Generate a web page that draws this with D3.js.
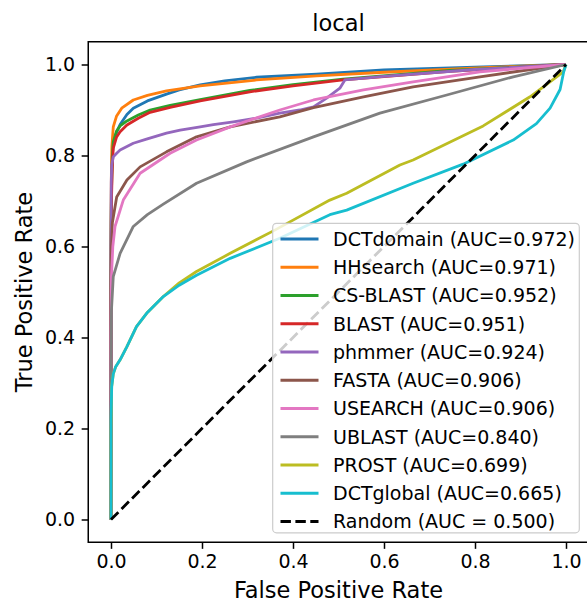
<!DOCTYPE html>
<html>
<head>
<meta charset="utf-8">
<script src="https://cdn.jsdelivr.net/npm/d3@7"></script>
<style>
  body { margin: 0; background: #fff; }
  text { font-family: "DejaVu Sans", sans-serif; fill: #000; }
</style>
</head>
<body>
<script>
//variables
var width = 587;
var height = 602;

//roc points, [fpr, tpr]
var dctdomain = [[0,0],[0,0.6],[0.001,0.75],[0.003,0.8],[0.005,0.83],[0.0125,0.852],[0.02,0.868],[0.035,0.89],[0.049,0.904],[0.08,0.92],[0.122,0.935],[0.15,0.944],[0.196,0.955],[0.25,0.964],[0.32,0.972],[0.452,0.979],[0.6,0.988],[0.818,0.995],[1,1]];
var hhsearch = [[0,0],[0,0.65],[0.001,0.78],[0.002,0.82],[0.005,0.863],[0.012,0.886],[0.0235,0.904],[0.049,0.922],[0.08,0.932],[0.122,0.942],[0.196,0.953],[0.32,0.966],[0.452,0.975],[0.6,0.983],[0.818,0.993],[1,1]];
var csblast = [[0,0],[0,0.55],[0.001,0.72],[0.003,0.8],[0.005,0.83],[0.012,0.853],[0.02,0.865],[0.035,0.876],[0.06,0.889],[0.086,0.9],[0.13,0.91],[0.196,0.923],[0.305,0.943],[0.4,0.956],[0.51,0.968],[0.745,0.987],[1,1]];
var blast = [[0,0],[0,0.5],[0.001,0.7],[0.003,0.78],[0.005,0.816],[0.012,0.84],[0.02,0.852],[0.035,0.867],[0.06,0.882],[0.086,0.895],[0.13,0.906],[0.196,0.92],[0.305,0.94],[0.4,0.953],[0.51,0.966],[0.745,0.985],[1,1]];
var phmmer = [[0,0],[0,0.6],[0.0005,0.74],[0.0015,0.779],[0.005,0.797],[0.0125,0.805],[0.02,0.812],[0.049,0.827],[0.078,0.836],[0.122,0.849],[0.152,0.856],[0.196,0.863],[0.225,0.868],[0.269,0.874],[0.32,0.882],[0.371,0.893],[0.415,0.9],[0.445,0.907],[0.474,0.926],[0.503,0.948],[0.514,0.966],[0.6,0.974],[0.8,0.989],[1,1]];
var fasta = [[0,0],[0,0.45],[0.001,0.6],[0.003,0.652],[0.0125,0.709],[0.035,0.746],[0.064,0.775],[0.122,0.808],[0.188,0.841],[0.262,0.863],[0.371,0.885],[0.445,0.905],[0.555,0.929],[0.664,0.951],[0.811,0.973],[1,1]];
var usearch = [[0,0],[0,0.4],[0.001,0.534],[0.004,0.6],[0.0088,0.644],[0.027,0.702],[0.064,0.761],[0.13,0.805],[0.188,0.834],[0.262,0.863],[0.371,0.9],[0.445,0.922],[0.555,0.944],[0.664,0.962],[0.811,0.984],[1,1]];
var ublast = [[0,0],[0,0.3],[0.001,0.46],[0.005,0.534],[0.02,0.585],[0.049,0.644],[0.08,0.67],[0.115,0.693],[0.188,0.739],[0.298,0.786],[0.445,0.841],[0.591,0.893],[0.738,0.933],[0.884,0.973],[1,1]];
var prost = [[0,0],[0,0.2],[0.0015,0.292],[0.005,0.32],[0.01,0.335],[0.02,0.351],[0.035,0.38],[0.056,0.424],[0.08,0.455],[0.115,0.49],[0.15,0.52],[0.188,0.545],[0.262,0.585],[0.36,0.636],[0.481,0.702],[0.518,0.717],[0.635,0.779],[0.664,0.79],[0.818,0.865],[0.921,0.929],[0.994,0.984],[1,1]];
var dctglobal = [[0,0],[0,0.22],[0.0015,0.292],[0.005,0.32],[0.01,0.335],[0.02,0.351],[0.035,0.38],[0.056,0.424],[0.08,0.455],[0.115,0.49],[0.15,0.515],[0.188,0.537],[0.262,0.574],[0.371,0.618],[0.481,0.67],[0.518,0.68],[0.664,0.739],[0.774,0.781],[0.884,0.834],[0.935,0.87],[0.965,0.904],[0.987,0.945],[0.995,0.984],[1,1]];
var random = [[0,0],[1,1]];

var names = ["DCTdomain","HHsearch","CS-BLAST","BLAST","phmmer","FASTA","USEARCH","UBLAST","PROST","DCTglobal","Random"];
var aucs = ["0.972","0.971","0.952","0.951","0.924","0.906","0.906","0.840","0.699","0.665","0.500"];
var colors = ["#1f77b4","#ff7f0e","#2ca02c","#d62728","#9467bd","#8c564b","#e377c2","#7f7f7f","#bcbd22","#17becf","#000000"];
var curves = [dctdomain, hhsearch, csblast, blast, phmmer, fasta, usearch, ublast, prost, dctglobal, random];
var ticks = [0, 0.2, 0.4, 0.6, 0.8, 1.0];

//axes box (right edge falls just outside the picture)
var axLeft = 88.25, axRight = 588.75, axTop = 41.75, axBottom = 542.25;

var x = d3.scaleLinear().domain([-0.05, 1.05]).range([axLeft, axRight]);
var y = d3.scaleLinear().domain([-0.05, 1.05]).range([axBottom, axTop]);

var svg = d3.select("body").append("svg")
    .attr("width", width)
    .attr("height", height);

//curves
var line = d3.line()
    .x(function (d) { return x(d[0]); })
    .y(function (d) { return y(d[1]); });

svg.append("g").selectAll("path")
    .data(curves)
    .enter()
    .append("path")
    .attr("d", line)
    .attr("fill", "none")
    .attr("stroke", function (d, i) { return colors[i]; })
    .attr("stroke-width", 2.8)
    .attr("stroke-linejoin", "round")
    .attr("stroke-dasharray", function (d, i) { return names[i] == "Random" ? "10.4,4.5" : null; });

//axes
var fmt = d3.format(".1f");
var xAxis = svg.append("g")
    .attr("transform", "translate(0," + axBottom + ")")
    .call(d3.axisBottom(x).tickValues(ticks).tickFormat(fmt).tickSize(6.6).tickPadding(5.5));
var yAxis = svg.append("g")
    .attr("transform", "translate(" + axLeft + ",0)")
    .call(d3.axisLeft(y).tickValues(ticks).tickFormat(fmt).tickSize(6.6).tickPadding(6.5));

[xAxis, yAxis].forEach(function (a) {
    a.select(".domain").remove();
    a.selectAll(".tick line").attr("stroke", "#000").attr("stroke-width", 1.5);
    a.selectAll(".tick text")
        .attr("font-family", "DejaVu Sans")
        .attr("font-size", 19)
        .attr("fill", "#000");
});

//spines
svg.append("rect")
    .attr("x", axLeft)
    .attr("y", axTop)
    .attr("width", axRight - axLeft)
    .attr("height", axBottom - axTop)
    .attr("fill", "none")
    .attr("stroke", "#000")
    .attr("stroke-width", 1.5);

//labels and title
svg.append("text")
    .attr("x", (axLeft + axRight) / 2)
    .attr("y", 598)
    .attr("text-anchor", "middle")
    .attr("font-size", 22.5)
    .text("False Positive Rate");

svg.append("text")
    .attr("transform", "translate(32," + (axTop + axBottom) / 2 + ") rotate(-90)")
    .attr("text-anchor", "middle")
    .attr("font-size", 22.5)
    .text("True Positive Rate");

svg.append("text")
    .attr("x", (axLeft + axRight) / 2)
    .attr("y", 30.5)
    .attr("text-anchor", "middle")
    .attr("font-size", 22.5)
    .text("local");

//legend
var legend = svg.append("g");
legend.append("rect")
    .attr("x", 272.7)
    .attr("y", 223.4)
    .attr("width", 579.3 - 272.7)
    .attr("height", 532.8 - 223.4)
    .attr("rx", 3.8)
    .attr("fill", "#fff")
    .attr("fill-opacity", 0.8)
    .attr("stroke", "#cccccc")
    .attr("stroke-width", 1.2);

var rowY = function (i) { return 239 + i * 28.25; };

var rows = legend.selectAll("g.row")
    .data(names)
    .enter()
    .append("g")
    .attr("class", "row");

rows.append("line")
    .attr("x1", 280.5)
    .attr("x2", 318.5)
    .attr("y1", function (d, i) { return rowY(i); })
    .attr("y2", function (d, i) { return rowY(i); })
    .attr("stroke", function (d, i) { return colors[i]; })
    .attr("stroke-width", 2.8)
    .attr("stroke-dasharray", function (d) { return d == "Random" ? "10.4,4.5" : null; });

rows.append("text")
    .attr("x", 333)
    .attr("y", function (d, i) { return rowY(i) + 6.8; })
    .attr("font-size", 19)
    .text(function (d, i) {
        return d == "Random" ? d + " (AUC = " + aucs[i] + ")" : d + " (AUC=" + aucs[i] + ")";
    });
</script>
</body>
</html>
